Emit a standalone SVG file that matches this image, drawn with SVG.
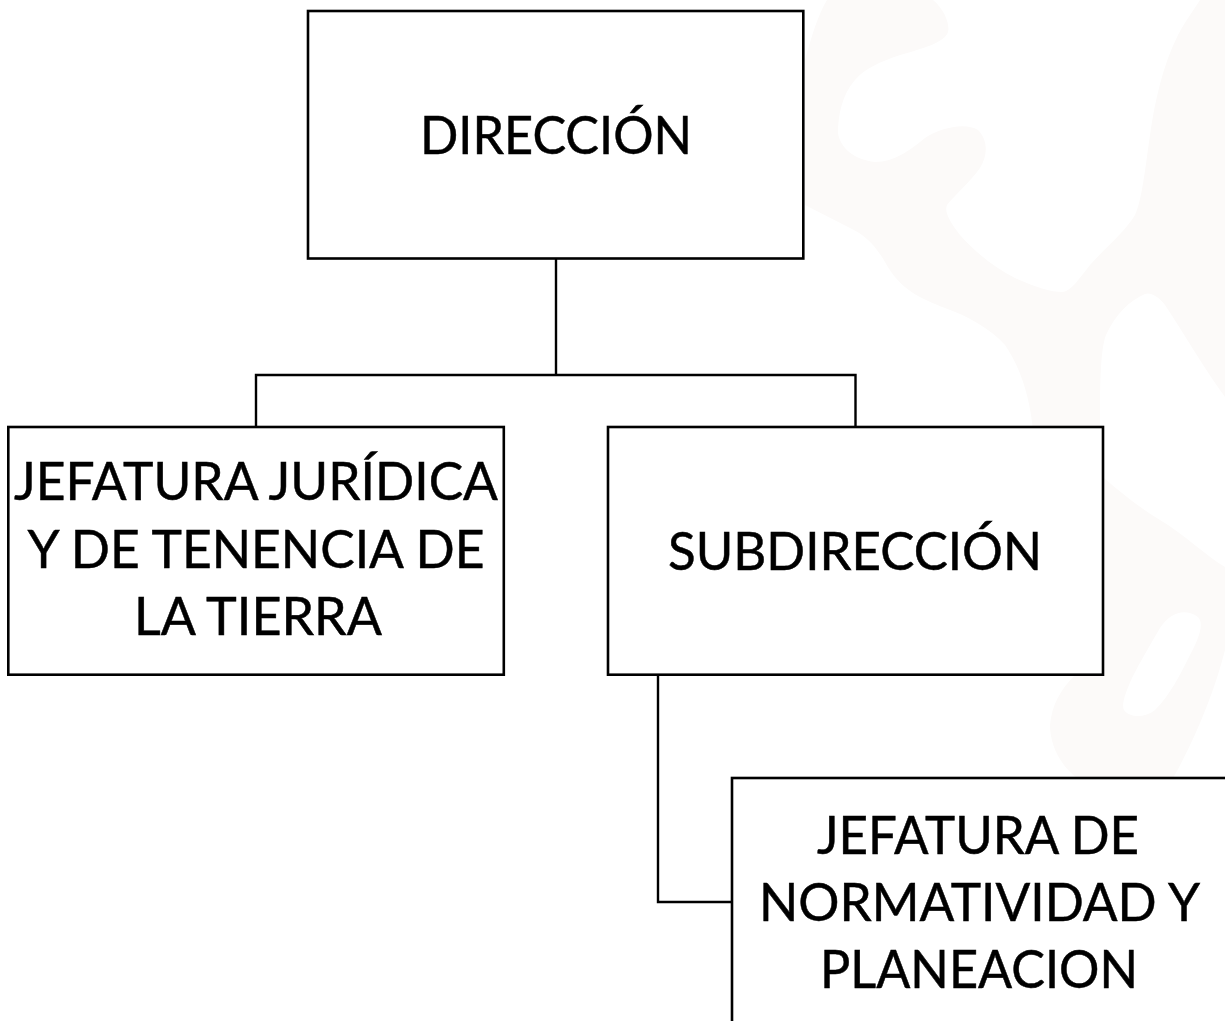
<svg xmlns="http://www.w3.org/2000/svg" width="1225" height="1021" viewBox="0 0 1225 1021">
<style>
.box{fill:#fff;stroke:#000;stroke-width:2.6}
.lab{font-family:"Lato","Open Sans",sans-serif;font-size:53px;fill:#000;stroke:#000;stroke-width:.5;text-anchor:middle}
.wm{fill:#fcfaf9}
#connectors path{fill:none;stroke:#000;stroke-width:2.4}
</style>
<rect width="1225" height="1021" fill="#fff"/>
<g id="watermark">
<path class="wm" fill-rule="evenodd" d="M827 0L933 0C945 10 950 25 948 32C945 42 925 48 900 55C880 62 865 68 855 80C842 95 838 115 838 133C840 148 855 160 875 162C895 162 910 150 925 138C940 128 965 122 978 130C988 140 988 155 980 168C970 182 955 195 947 205C944 212 950 222 960 235C975 252 995 268 1015 278C1035 287 1050 292 1063 292C1072 290 1078 280 1090 265C1105 248 1125 232 1135 215C1142 200 1145 170 1150 135C1155 100 1163 65 1178 35C1186 20 1195 8 1200 0L1225 0L1225 397C1205 370 1185 335 1165 305C1158 296 1150 292 1145 294C1130 300 1115 315 1106 335C1100 350 1100 390 1100 430L1104 430L1104 478C1120 492 1140 508 1160 520C1185 535 1205 555 1225 567L1225 650C1215 690 1195 740 1173 778L1077 778C1060 765 1050 745 1050 725C1052 705 1060 690 1075 675L1000 675L1033 430C1030 400 1022 370 1005 345C990 328 965 315 945 308C920 298 900 290 885 262C875 245 865 235 850 228C835 220 820 213 805 205L805 60C812 35 818 15 827 0Z M1190 613C1180 610 1168 615 1160 628C1150 645 1140 662 1132 678C1126 692 1121 704 1124 710C1130 718 1145 718 1155 710C1170 695 1180 675 1190 655C1197 642 1203 628 1200 620C1198 616 1194 614 1190 613Z"/>
</g>
<g id="connectors">
<path d="M556 259V375"/>
<path d="M256 427V375H855.500V427"/>
<path d="M658 675V902H732"/>
</g>
<g id="node-direccion">
<rect class="box" x="308" y="11" width="495.300" height="247.500"/>
<text class="lab" x="556" y="154" textLength="272" lengthAdjust="spacingAndGlyphs">DIRECCIÓN</text>
</g>
<g id="node-juridica">
<rect class="box" x="8.300" y="427" width="495.500" height="247.700"/>
<text class="lab" x="256" y="500" textLength="484" lengthAdjust="spacingAndGlyphs">JEFATURA JURÍDICA</text>
<text class="lab" x="256" y="568" textLength="457" lengthAdjust="spacingAndGlyphs">Y DE TENENCIA DE</text>
<text class="lab" x="258" y="635" textLength="248" lengthAdjust="spacingAndGlyphs">LA TIERRA</text>
</g>
<g id="node-subdireccion">
<rect class="box" x="608" y="427" width="495" height="247.700"/>
<text class="lab" x="855" y="570" textLength="374" lengthAdjust="spacingAndGlyphs">SUBDIRECCIÓN</text>
</g>
<g id="node-normatividad">
<rect class="box" x="732" y="778" width="500" height="260"/>
<text class="lab" x="978" y="854" textLength="322" lengthAdjust="spacingAndGlyphs">JEFATURA DE</text>
<text class="lab" x="979.500" y="921" textLength="441" lengthAdjust="spacingAndGlyphs">NORMATIVIDAD Y</text>
<text class="lab" x="979" y="988" textLength="318" lengthAdjust="spacingAndGlyphs">PLANEACION</text>
</g>
</svg>
